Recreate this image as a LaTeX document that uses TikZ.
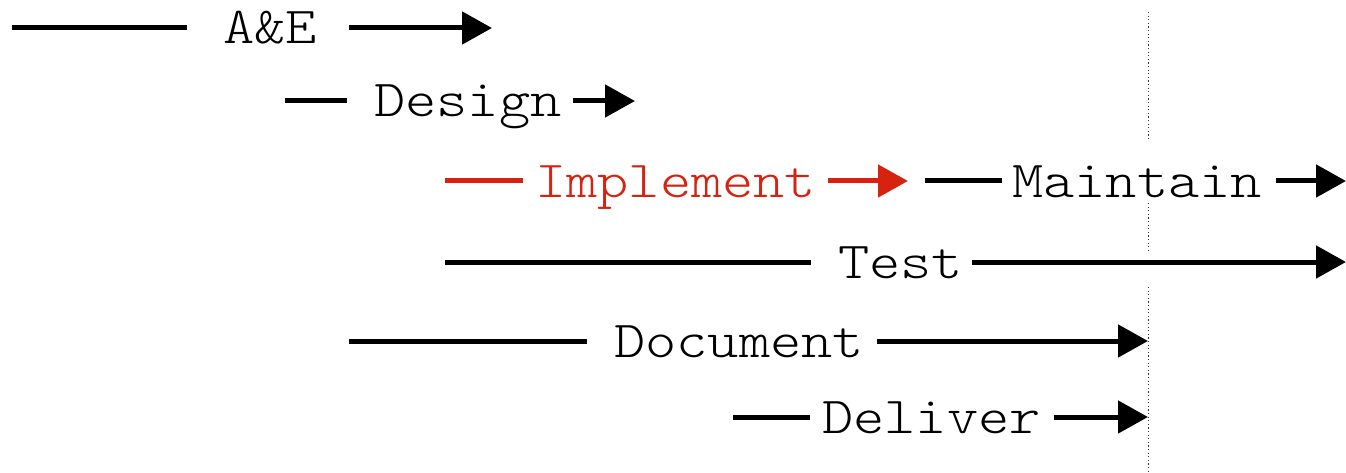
\documentclass[tikz,border=0pt]{standalone}
\usepackage{fontspec}
\setmonofont{lmmonolt10-regular.otf}[FakeStretch=1.143]
\usetikzlibrary{arrows.meta}
\definecolor{implred}{RGB}{214,35,16}
\tikzset{
  x=1pt, y=-1pt,
  phase/.style={font=\ttfamily\fontsize{52}{52}\selectfont, inner sep=0pt,
    text height=32pt, text depth=0pt, anchor=west},
  seg/.style={line width=5pt},
  arr/.style={line width=5pt, -{Triangle[length=30pt,width=32pt]}},
  milestone/.style={line width=1pt, dash pattern=on 1.2pt off 2.4pt, black!80}
}
\begin{document}
\begin{tikzpicture}
\useasboundingbox (0,0) rectangle (1346,473);

% delivery milestone
\coordinate (m0) at (1148,12);
\coordinate (m1) at (1148,140);
\coordinate (m2) at (1148,203);
\coordinate (m3) at (1148,252);
\coordinate (m4) at (1148,287);
\coordinate (m5) at (1148,473);
\draw[milestone] (m0) -- (m1) (m2) -- (m3) (m4) -- (m5);

% A&E
\coordinate (ae0) at (12,28);
\coordinate (ae1) at (492,28);
\node[phase] (ae) at (223,28) {A\&E};
\draw[seg, shorten >=36pt] (ae0) -- (ae.west);
\draw[arr, shorten <=32pt] (ae.east) -- (ae1);

% Design
\coordinate (de0) at (285,101);
\coordinate (de1) at (635,101);
\node[phase] (de) at (374,101) {Design};
\draw[seg, shorten >=27pt] (de0) -- (de.west);
\draw[arr, shorten <=11pt] (de.east) -- (de1);

% Implement
\coordinate (im0) at (445,181);
\coordinate (im1) at (908,181);
\node[phase, text=implred] (im) at (535,181) {Implement};
\draw[seg, implred, shorten >=12pt] (im0) -- (im.west);
\draw[arr, implred, shorten <=12pt] (im.east) -- (im1);

% Maintain
\coordinate (ma0) at (925,181);
\coordinate (ma1) at (1346,181);
\node[phase] (ma) at (1012,181) {Maintain};
\draw[seg, shorten >=10pt] (ma0) -- (ma.west);
\draw[arr, shorten <=14pt] (ma.east) -- (ma1);

% Test
\coordinate (te0) at (445,262);
\coordinate (te1) at (1346,262);
\node[phase] (te) at (838,262) {Test};
\draw[seg, shorten >=27pt] (te0) -- (te.west);
\draw[arr, shorten <=9pt] (te.east) -- (te1);

% Document
\coordinate (do0) at (349,341);
\coordinate (do1) at (1148,341);
\node[phase] (do) at (614,341) {Document};
\draw[seg, shorten >=27pt] (do0) -- (do.west);
\draw[arr, shorten <=13pt] (do.east) -- (do1);

% Deliver
\coordinate (dl0) at (733,417);
\coordinate (dl1) at (1148,417);
\node[phase] (dl) at (822,417) {Deliver};
\draw[seg, shorten >=12pt] (dl0) -- (dl.west);
\draw[arr, shorten <=13pt] (dl.east) -- (dl1);
\end{tikzpicture}
\end{document}
